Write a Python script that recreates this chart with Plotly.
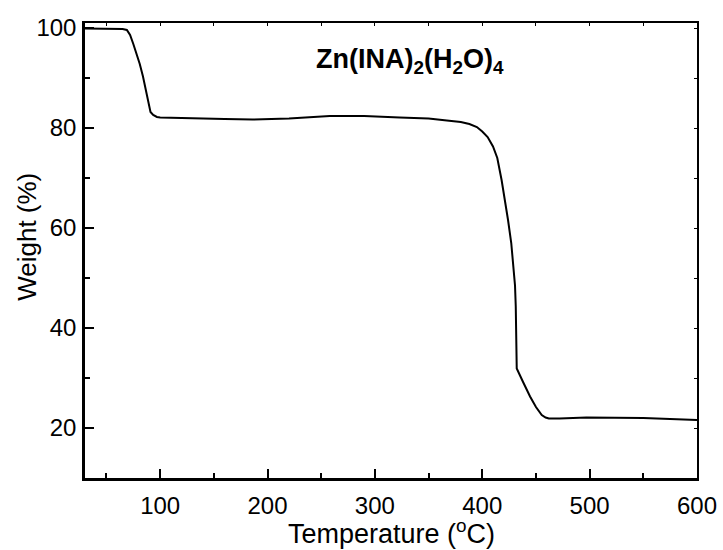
import plotly.graph_objects as go

temperature = [30, 50, 65, 69, 72, 75, 78, 81, 84, 86, 88, 89.5, 91, 93.5, 97, 100,
               130, 160, 186, 220, 258, 290, 323, 350, 367, 380, 388, 395, 400, 405,
               410, 414, 418, 421, 424, 427, 429, 430.5, 431.2, 431.7, 432.1, 438,
               444.5, 450, 455.4, 459, 462, 472, 497, 550, 600]
weight = [99.9, 99.9, 99.8, 99.6, 98.6, 96.8, 94.8, 92.8, 90.3, 88.2, 85.8, 84.2,
          83.2, 82.6, 82.2, 82.1, 81.9, 81.8, 81.7, 81.9, 82.4, 82.4, 82.1, 81.9,
          81.5, 81.2, 80.8, 80.2, 79.3, 78.2, 76.3, 74.0, 69.6, 66.0, 61.6, 57.0,
          52.9, 48.5, 44.3, 38.0, 31.9, 29.2, 26.3, 24.2, 22.6, 22.1, 21.9, 21.9,
          22.1, 22.0, 21.6]

x_ticks = [100, 200, 300, 400, 500, 600]
y_ticks = [20, 40, 60, 80, 100]
label = "Zn(INA)<sub>2</sub>(H<sub>2</sub>O)<sub>4</sub>"
x_title = "Temperature (<sup>o</sup>C)"
y_title = "Weight (%)"

FONT = "Arial, Liberation Sans, sans-serif"

fig = go.Figure()
fig.add_trace(go.Scatter(x=temperature, y=weight, mode="lines",
                         line=dict(color="black", width=2), showlegend=False,
                         hoverinfo="x+y"))
# helper trace so the mirrored (top/right) axes are drawn
fig.add_trace(go.Scatter(x=temperature, y=weight, mode="lines", xaxis="x2", yaxis="y2",
                         line=dict(color="rgba(0,0,0,0)", width=0), showlegend=False,
                         hoverinfo="skip"))

axis_common = dict(showgrid=False, zeroline=False, showline=True, linecolor="black",
                   linewidth=2.5, ticks="inside", tickcolor="black", tickwidth=2,
                   automargin=False,
                   tickfont=dict(family=FONT, size=24, color="black"))

fig.update_layout(
    width=723, height=550,
    margin=dict(l=85, r=26, t=23, b=72),
    paper_bgcolor="white", plot_bgcolor="white",
    font=dict(family=FONT, color="black"),
    xaxis=dict(range=[30, 600], tickvals=x_ticks, ticklen=9,
               minor=dict(dtick=50, ticks="inside", ticklen=5, tickcolor="black", tickwidth=2),
               ticklabelstandoff=4,
               **axis_common),
    yaxis=dict(range=[10, 101], tickvals=y_ticks, ticklen=9,
               minor=dict(dtick=10, ticks="inside", ticklen=5, tickcolor="black", tickwidth=2),
               ticklabelstandoff=1,
               **axis_common),
    xaxis2=dict(overlaying="x", side="top", matches="x", showgrid=False, zeroline=False,
                showline=True, linecolor="black", linewidth=2, ticks="inside", ticklen=3,
                tickcolor="black", dtick=50, tick0=0, showticklabels=False, automargin=False),
    yaxis2=dict(overlaying="y", side="right", matches="y", showgrid=False, zeroline=False,
                showline=True, linecolor="black", linewidth=2, ticks="inside", ticklen=3,
                tickcolor="black", dtick=10, tick0=0, showticklabels=False, automargin=False),
    annotations=[
        dict(text="<b>" + label + "</b>", x=333, y=93.5, xref="x", yref="y",
             showarrow=False, xanchor="center", yanchor="middle",
             font=dict(family=FONT, size=27, color="black")),
        dict(text=x_title, x=0.5, y=-0.119, xref="paper", yref="paper",
             showarrow=False, xanchor="center", yanchor="middle",
             font=dict(family=FONT, size=27, color="black")),
        dict(text=y_title, x=-0.0948, y=0.53, xref="paper", yref="paper",
             showarrow=False, xanchor="center", yanchor="middle", textangle=-90,
             font=dict(family=FONT, size=26, color="black")),
    ],
)

fig.write_html("out.html", config={"displayModeBar": False},
               post_script="document.body.style.margin='0';document.body.style.overflow='hidden';")
